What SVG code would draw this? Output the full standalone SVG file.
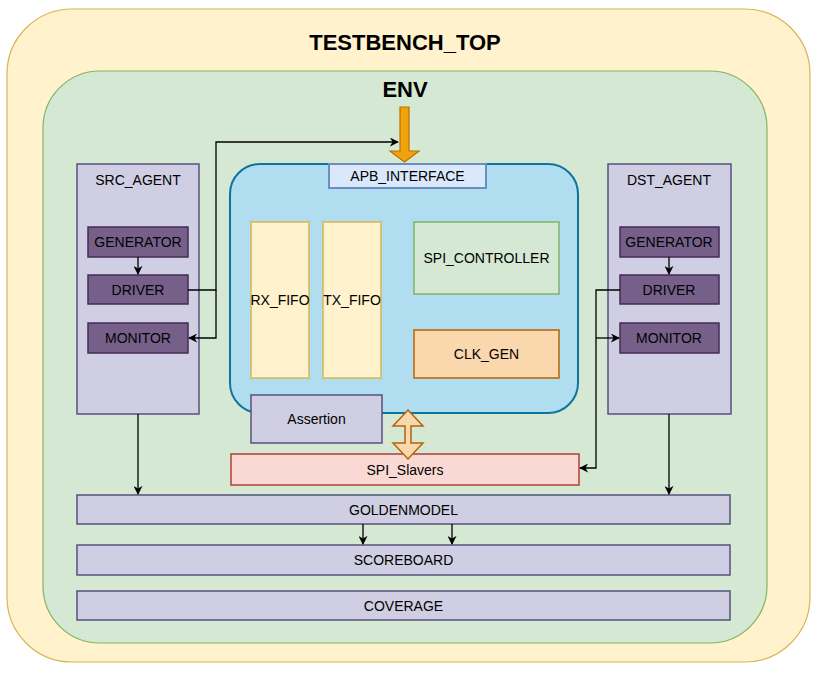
<svg xmlns="http://www.w3.org/2000/svg" width="815" height="673" viewBox="0 0 815 673">
<style>
text{font-family:"Liberation Sans",Arial,sans-serif;font-size:14px;fill:#000;text-anchor:middle;dominant-baseline:central}
.title{font-size:22px;font-weight:bold}
.agent{fill:#d0cee2;stroke:#56517e;stroke-width:1.5}
.sub{fill:#76608a;stroke:#432d57;stroke-width:1.5}
.fifo{fill:#fff2cc;stroke:#d6b656;stroke-width:1.5}
.wire{fill:none;stroke:#000;stroke-width:1.3}
</style>
<defs>
<marker id="ah" viewBox="0 0 10 10" refX="9" refY="5" markerWidth="9" markerHeight="9" markerUnits="userSpaceOnUse" orient="auto">
<path d="M0,0 L10,5 L0,10 L3,5 z" fill="#000"/>
</marker>
</defs>
<g id="testbench_top">
<rect x="7" y="9" width="803" height="653" rx="65" fill="#fff2cc" stroke="#d6b656" stroke-width="1.2"/>
<text class="title" x="405" y="42">TESTBENCH_TOP</text>
</g>
<g id="env">
<rect x="43" y="71" width="724" height="572" rx="57" fill="#d5e8d4" stroke="#82b366" stroke-width="1.2"/>
<text class="title" x="405" y="89">ENV</text>
</g>
<g id="src_agent">
<rect class="agent" x="77" y="164" width="122" height="250"/>
<text x="138" y="180">SRC_AGENT</text>
</g>
<g id="src_generator"><rect class="sub" x="88" y="227" width="100" height="30"/><text x="138" y="242">GENERATOR</text></g>
<g id="src_driver"><rect class="sub" x="88" y="275" width="100" height="29"/><text x="138" y="290">DRIVER</text></g>
<g id="src_monitor"><rect class="sub" x="88" y="323" width="100" height="30"/><text x="138" y="338">MONITOR</text></g>
<g id="dst_agent">
<rect class="agent" x="608" y="164" width="123" height="250"/>
<text x="669" y="180">DST_AGENT</text>
</g>
<g id="dst_generator"><rect class="sub" x="620" y="227" width="99" height="30"/><text x="669" y="242">GENERATOR</text></g>
<g id="dst_driver"><rect class="sub" x="620" y="275" width="99" height="29"/><text x="669" y="290">DRIVER</text></g>
<g id="dst_monitor"><rect class="sub" x="620" y="323" width="99" height="30"/><text x="669" y="338">MONITOR</text></g>
<g id="dut">
<rect x="230" y="164" width="348" height="249" rx="30" fill="#b1ddf0" stroke="#10739e" stroke-width="2"/>
</g>
<g id="apb_interface"><rect x="329" y="164" width="157" height="24" fill="#dae8fc" stroke="#6c8ebf" stroke-width="2"/><text x="407.5" y="176">APB_INTERFACE</text></g>
<g id="rx_fifo"><rect class="fifo" x="251" y="222" width="58" height="156"/><text x="280" y="300">RX_FIFO</text></g>
<g id="tx_fifo"><rect class="fifo" x="323" y="222" width="58" height="156"/><text x="352" y="300">TX_FIFO</text></g>
<g id="spi_controller"><rect x="414" y="222" width="145" height="72" fill="#d5e8d4" stroke="#82b366" stroke-width="1.5"/><text x="486.5" y="258">SPI_CONTROLLER</text></g>
<g id="clk_gen"><rect x="414" y="330" width="145" height="48" fill="#fad7ac" stroke="#b46504" stroke-width="1.5"/><text x="486.5" y="354">CLK_GEN</text></g>
<g id="assertion"><rect class="agent" x="251" y="395" width="131" height="48"/><text x="316.5" y="419">Assertion</text></g>
<g id="spi_slavers"><rect x="231" y="454" width="348" height="31" fill="#fad9d5" stroke="#ae4132" stroke-width="1.5"/><text x="405" y="469.5">SPI_Slavers</text></g>
<g id="goldenmodel"><rect class="agent" x="77" y="495" width="653" height="29"/><text x="403.5" y="510">GOLDENMODEL</text></g>
<g id="scoreboard"><rect class="agent" x="77" y="545" width="653" height="30"/><text x="403.5" y="560">SCOREBOARD</text></g>
<g id="coverage"><rect class="agent" x="77" y="591" width="653" height="29"/><text x="403.5" y="606">COVERAGE</text></g>
<g id="connectors">
<path d="M400,107 H409 V151 H419 L404.5,162 L390,151 H400 Z" fill="#f0a30a" stroke="#bd7000" stroke-width="1.2"/>
<path d="M408,410 L423,426 H411 V443 H423 L408,459 L393,443 H405 V426 H393 Z" fill="#fad7ac" stroke="#b46504" stroke-width="1.5"/>
<line class="wire" x1="138" y1="257" x2="138" y2="274" marker-end="url(#ah)"/>
<line class="wire" x1="669" y1="257" x2="669" y2="274" marker-end="url(#ah)"/>
<path class="wire" d="M188,290 H216 V142 H398" marker-end="url(#ah)"/>
<path class="wire" d="M216,290 V338 H189" marker-end="url(#ah)"/>
<path class="wire" d="M620,290 H596 V468 H580" marker-end="url(#ah)"/>
<path class="wire" d="M596,338 H619" marker-end="url(#ah)"/>
<line class="wire" x1="138" y1="414" x2="138" y2="494" marker-end="url(#ah)"/>
<line class="wire" x1="669" y1="414" x2="669" y2="494" marker-end="url(#ah)"/>
<line class="wire" x1="363" y1="524" x2="363" y2="544" marker-end="url(#ah)"/>
<line class="wire" x1="452" y1="524" x2="452" y2="544" marker-end="url(#ah)"/>
</g>
</svg>
